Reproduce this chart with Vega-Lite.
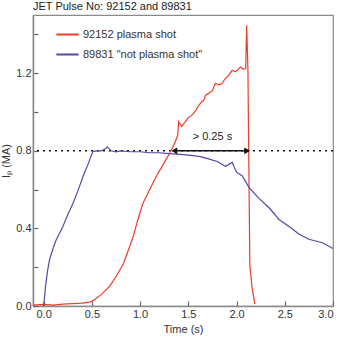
{
  "$schema": "https://vega.github.io/schema/vega-lite/v6.json",
  "width": 300,
  "height": 291,
  "autosize": "none",
  "padding": {"left": 33, "top": 15, "right": 9, "bottom": 33},
  "background": "white",
  "config": {
    "font": "Liberation Sans",
    "view": {"stroke": "#8a8a8a", "strokeWidth": 1.2},
    "axis": {"labelFont": "Liberation Sans", "titleFont": "Liberation Sans", "labelColor": "#333", "titleColor": "#333", "labelFontSize": 11, "titleFontSize": 11, "titleFontWeight": "normal", "grid": false, "domainColor": "#8a8a8a", "domainWidth": 1.5, "tickColor": "#666", "tickWidth": 1.2, "tickSize": -5, "labelPadding": 7}
  },
  "title": {"text": "JET Pulse No: 92152 and 89831", "anchor": "start", "frame": "group", "fontSize": 11, "fontWeight": "normal", "color": "#222", "offset": 3},
  "datasets": {
    "curves": [
      {"shot": "92152 plasma shot", "t": -0.11, "I": 0.005},
      {"shot": "92152 plasma shot", "t": 0.0, "I": 0.008},
      {"shot": "92152 plasma shot", "t": 0.1, "I": 0.005},
      {"shot": "92152 plasma shot", "t": 0.2, "I": 0.01},
      {"shot": "92152 plasma shot", "t": 0.3, "I": 0.012},
      {"shot": "92152 plasma shot", "t": 0.4, "I": 0.015},
      {"shot": "92152 plasma shot", "t": 0.48, "I": 0.02},
      {"shot": "92152 plasma shot", "t": 0.52, "I": 0.03},
      {"shot": "92152 plasma shot", "t": 0.6, "I": 0.06},
      {"shot": "92152 plasma shot", "t": 0.69, "I": 0.105},
      {"shot": "92152 plasma shot", "t": 0.76, "I": 0.16},
      {"shot": "92152 plasma shot", "t": 0.83, "I": 0.22},
      {"shot": "92152 plasma shot", "t": 0.88, "I": 0.29},
      {"shot": "92152 plasma shot", "t": 0.93, "I": 0.36},
      {"shot": "92152 plasma shot", "t": 0.98, "I": 0.45},
      {"shot": "92152 plasma shot", "t": 1.03, "I": 0.53},
      {"shot": "92152 plasma shot", "t": 1.1, "I": 0.6},
      {"shot": "92152 plasma shot", "t": 1.17, "I": 0.67},
      {"shot": "92152 plasma shot", "t": 1.24, "I": 0.73},
      {"shot": "92152 plasma shot", "t": 1.31, "I": 0.79},
      {"shot": "92152 plasma shot", "t": 1.36, "I": 0.84},
      {"shot": "92152 plasma shot", "t": 1.39, "I": 0.88},
      {"shot": "92152 plasma shot", "t": 1.4, "I": 0.95},
      {"shot": "92152 plasma shot", "t": 1.43, "I": 0.925},
      {"shot": "92152 plasma shot", "t": 1.47, "I": 0.95},
      {"shot": "92152 plasma shot", "t": 1.5, "I": 0.97},
      {"shot": "92152 plasma shot", "t": 1.54, "I": 0.985},
      {"shot": "92152 plasma shot", "t": 1.58, "I": 1.01},
      {"shot": "92152 plasma shot", "t": 1.61, "I": 1.036},
      {"shot": "92152 plasma shot", "t": 1.64, "I": 1.053},
      {"shot": "92152 plasma shot", "t": 1.66, "I": 1.06},
      {"shot": "92152 plasma shot", "t": 1.68, "I": 1.087},
      {"shot": "92152 plasma shot", "t": 1.71, "I": 1.096},
      {"shot": "92152 plasma shot", "t": 1.75, "I": 1.11},
      {"shot": "92152 plasma shot", "t": 1.78, "I": 1.147},
      {"shot": "92152 plasma shot", "t": 1.82, "I": 1.14},
      {"shot": "92152 plasma shot", "t": 1.85, "I": 1.147},
      {"shot": "92152 plasma shot", "t": 1.88, "I": 1.17},
      {"shot": "92152 plasma shot", "t": 1.92, "I": 1.19},
      {"shot": "92152 plasma shot", "t": 1.955, "I": 1.215},
      {"shot": "92152 plasma shot", "t": 1.99, "I": 1.207},
      {"shot": "92152 plasma shot", "t": 2.02, "I": 1.22},
      {"shot": "92152 plasma shot", "t": 2.04, "I": 1.232},
      {"shot": "92152 plasma shot", "t": 2.07, "I": 1.22},
      {"shot": "92152 plasma shot", "t": 2.095, "I": 1.225},
      {"shot": "92152 plasma shot", "t": 2.105, "I": 1.446},
      {"shot": "92152 plasma shot", "t": 2.118, "I": 1.22},
      {"shot": "92152 plasma shot", "t": 2.13, "I": 0.6},
      {"shot": "92152 plasma shot", "t": 2.138, "I": 0.21},
      {"shot": "92152 plasma shot", "t": 2.16, "I": 0.1},
      {"shot": "92152 plasma shot", "t": 2.19, "I": 0.01},
      {"shot": "89831 \"not plasma shot\"", "t": 0.0, "I": 0.0},
      {"shot": "89831 \"not plasma shot\"", "t": 0.02, "I": 0.1},
      {"shot": "89831 \"not plasma shot\"", "t": 0.04, "I": 0.18},
      {"shot": "89831 \"not plasma shot\"", "t": 0.0625, "I": 0.24},
      {"shot": "89831 \"not plasma shot\"", "t": 0.1, "I": 0.3},
      {"shot": "89831 \"not plasma shot\"", "t": 0.13, "I": 0.34},
      {"shot": "89831 \"not plasma shot\"", "t": 0.2, "I": 0.41},
      {"shot": "89831 \"not plasma shot\"", "t": 0.25, "I": 0.47},
      {"shot": "89831 \"not plasma shot\"", "t": 0.305, "I": 0.53},
      {"shot": "89831 \"not plasma shot\"", "t": 0.36, "I": 0.6},
      {"shot": "89831 \"not plasma shot\"", "t": 0.41, "I": 0.67},
      {"shot": "89831 \"not plasma shot\"", "t": 0.46, "I": 0.73},
      {"shot": "89831 \"not plasma shot\"", "t": 0.51, "I": 0.796},
      {"shot": "89831 \"not plasma shot\"", "t": 0.55, "I": 0.8},
      {"shot": "89831 \"not plasma shot\"", "t": 0.6, "I": 0.8},
      {"shot": "89831 \"not plasma shot\"", "t": 0.64, "I": 0.81},
      {"shot": "89831 \"not plasma shot\"", "t": 0.66, "I": 0.82},
      {"shot": "89831 \"not plasma shot\"", "t": 0.7, "I": 0.8},
      {"shot": "89831 \"not plasma shot\"", "t": 0.75, "I": 0.795},
      {"shot": "89831 \"not plasma shot\"", "t": 0.8, "I": 0.8},
      {"shot": "89831 \"not plasma shot\"", "t": 0.9, "I": 0.795},
      {"shot": "89831 \"not plasma shot\"", "t": 1.0, "I": 0.795},
      {"shot": "89831 \"not plasma shot\"", "t": 1.1, "I": 0.79},
      {"shot": "89831 \"not plasma shot\"", "t": 1.2, "I": 0.79},
      {"shot": "89831 \"not plasma shot\"", "t": 1.3, "I": 0.785},
      {"shot": "89831 \"not plasma shot\"", "t": 1.45, "I": 0.78},
      {"shot": "89831 \"not plasma shot\"", "t": 1.55, "I": 0.775},
      {"shot": "89831 \"not plasma shot\"", "t": 1.625, "I": 0.77},
      {"shot": "89831 \"not plasma shot\"", "t": 1.7, "I": 0.76},
      {"shot": "89831 \"not plasma shot\"", "t": 1.8, "I": 0.745},
      {"shot": "89831 \"not plasma shot\"", "t": 1.885, "I": 0.72},
      {"shot": "89831 \"not plasma shot\"", "t": 1.92, "I": 0.73},
      {"shot": "89831 \"not plasma shot\"", "t": 1.955, "I": 0.74},
      {"shot": "89831 \"not plasma shot\"", "t": 2.0, "I": 0.69},
      {"shot": "89831 \"not plasma shot\"", "t": 2.06, "I": 0.67},
      {"shot": "89831 \"not plasma shot\"", "t": 2.13, "I": 0.61},
      {"shot": "89831 \"not plasma shot\"", "t": 2.23, "I": 0.556},
      {"shot": "89831 \"not plasma shot\"", "t": 2.34, "I": 0.505},
      {"shot": "89831 \"not plasma shot\"", "t": 2.44, "I": 0.446},
      {"shot": "89831 \"not plasma shot\"", "t": 2.545, "I": 0.41},
      {"shot": "89831 \"not plasma shot\"", "t": 2.65, "I": 0.37},
      {"shot": "89831 \"not plasma shot\"", "t": 2.75, "I": 0.344},
      {"shot": "89831 \"not plasma shot\"", "t": 2.89, "I": 0.326},
      {"shot": "89831 \"not plasma shot\"", "t": 3.0, "I": 0.296}
    ],
    "threshold": [{"I": 0.8}],
    "arrow": [{"t": 1.34, "t2": 2.125, "I": 0.8}],
    "heads": [{"t": 1.355, "I": 0.8, "dir": "left"}, {"t": 2.11, "I": 0.8, "dir": "right"}],
    "note": [{"t": 1.75, "I": 0.845, "label": "> 0.25 s"}]
  },
  "encoding": {
    "x": {"field": "t", "type": "quantitative", "scale": {"domain": [-0.11, 3.0], "nice": false, "zero": false}, "axis": {"title": "Time (s)", "values": [0, 0.5, 1, 1.5, 2, 2.5, 3], "format": ".1f", "titlePadding": 4}},
    "y": {"field": "I", "type": "quantitative", "scale": {"domain": [0, 1.5], "nice": false}, "axis": {"title": "Iₚ (MA)", "values": [0, 0.2, 0.4, 0.6, 0.8, 1.0, 1.2, 1.4], "labelExpr": "round(datum.value*10) % 4 == 0 ? format(datum.value, '.1f') : ''", "titlePadding": 4}}
  },
  "layer": [
    {
      "data": {"name": "threshold"},
      "mark": {"type": "rule", "color": "#111", "strokeWidth": 1.5, "strokeDash": [2, 4]},
      "encoding": {"x": null, "y": {"field": "I", "type": "quantitative"}}
    },
    {
      "data": {"name": "curves"},
      "mark": {"type": "line", "strokeWidth": 1.2},
      "encoding": {
        "color": {"field": "shot", "type": "nominal", "scale": {"domain": ["92152 plasma shot", "89831 \"not plasma shot\""], "range": ["#ef3b2c", "#5548a8"]}, "legend": {"title": null, "orient": "none", "legendX": 22, "legendY": 7, "symbolType": "stroke", "symbolSize": 500, "symbolStrokeWidth": 2, "labelFontSize": 11, "labelColor": "#333", "labelFont": "Liberation Sans", "rowPadding": 2, "labelOffset": 3}},
        "order": {"field": "t", "type": "quantitative"}
      }
    },
    {
      "data": {"name": "arrow"},
      "mark": {"type": "rule", "color": "#111", "strokeWidth": 1.5},
      "encoding": {"x2": {"field": "t2"}}
    },
    {
      "data": {"name": "heads"},
      "mark": {"type": "point", "filled": true, "color": "#111", "size": 45, "opacity": 1},
      "encoding": {"shape": {"field": "dir", "type": "nominal", "scale": {"domain": ["left", "right"], "range": ["triangle-left", "triangle-right"]}, "legend": null}}
    },
    {
      "data": {"name": "note"},
      "mark": {"type": "text", "fontSize": 11, "color": "#222", "baseline": "bottom"},
      "encoding": {"text": {"field": "label"}}
    }
  ]
}
